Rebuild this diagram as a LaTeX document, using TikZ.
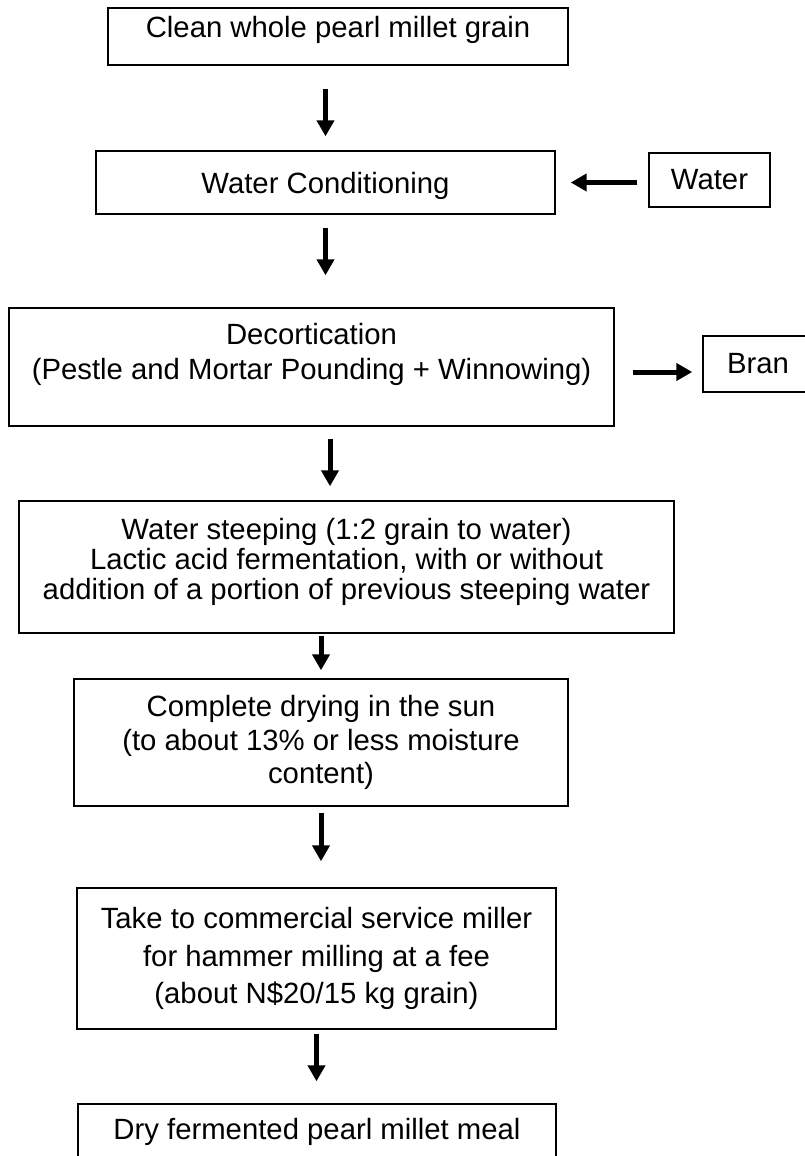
\documentclass[tikz,border=0pt]{standalone}
\usepackage{fontspec}
\setmainfont{Liberation Sans}
\usetikzlibrary{arrows.meta}

\begin{document}
\begin{tikzpicture}[x=1pt,y=-1pt,
	box/.style={draw, line width=1.4pt, inner sep=0pt, align=center, font=\fontsize{29.3}{33.5}\selectfont},
	flow/.style={line width=5pt, -{Triangle[length=16pt,width=17pt]}}]

\useasboundingbox (0,0) rectangle (805,1156);
\clip (0,0) rectangle (805,1156);
\fill[white] (0,0) rectangle (805,1156);

% main line of steps
\node[box, minimum width=460, minimum height=57, text depth=19pt] (clean) at (338,36.5) {Clean whole pearl millet grain};
\node[box, minimum width=459, minimum height=63, text depth=0pt] (cond) at (325.5,182.5) {Water Conditioning};
\node[box, minimum width=605, minimum height=118, font=\fontsize{29.3}{35}\selectfont] (decort) at (311.5,367)
	{Decortication\\(Pestle and Mortar Pounding + Winnowing)\\[-4.6pt]\mbox{}};
\node[box, minimum width=655, minimum height=132, font=\fontsize{29.3}{30}\selectfont] (steep) at (346.5,567)
	{Water steeping (1:2 grain to water)\\Lactic acid fermentation, with or without\\addition of a portion of previous steeping water\\[-14.6pt]\mbox{}};
\node[box, minimum width=494, minimum height=127] (dry) at (321,742.5)
	{Complete drying in the sun\\(to about 13\% or less moisture\\content)};
\node[box, minimum width=479, minimum height=141, font=\fontsize{29.3}{37.5}\selectfont] (miller) at (316.5,958.5)
	{Take to commercial service miller\\for hammer milling at a fee\\(about N\$20/15 kg grain)};
\node[box, minimum width=478, minimum height=56] (meal) at (317,1132) {Dry fermented pearl millet meal};

% side inputs and outputs
\node[box, minimum width=121, minimum height=54] (water) at (709.5,180) {Water};
\node[box, minimum width=110, minimum height=56] (bran) at (758,364) {Bran};

\coordinate (down3) at (330,0);

\draw[flow, shorten <=23pt, shorten >=14pt] (clean.south -| cond.north) -- (cond.north);
\draw[flow, shorten <=13pt, shorten >=32pt] (cond.south) -- (cond.south |- decort.north);
\draw[flow, shorten <=12pt, shorten >=14pt] (decort.south -| down3) -- (steep.north -| down3);
\draw[flow, shorten <=2pt, shorten >=8pt] (steep.south -| dry.north) -- (dry.north);
\draw[flow, shorten <=6pt, shorten >=26pt] (dry.south) -- (dry.south |- miller.north);
\draw[flow, shorten <=4pt, shorten >=22pt] (miller.south) -- (miller.south |- meal.north);

\draw[flow, shorten <=11pt, shorten >=15pt] (cond.east -| water.west) -- (cond.east);
\draw[flow, shorten <=18pt, shorten >=10pt] ([yshift=-5pt]decort.east) -- ([yshift=-5pt]decort.east -| bran.west);

\end{tikzpicture}
\end{document}
